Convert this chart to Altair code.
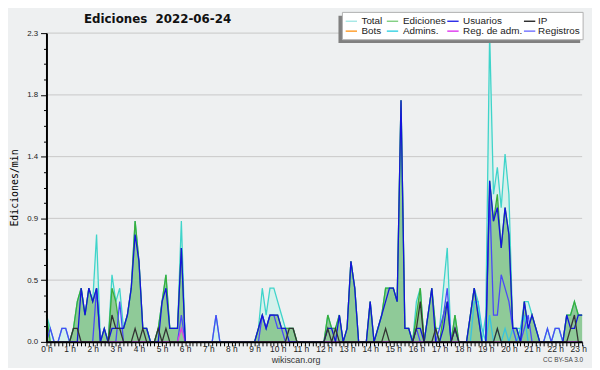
import altair as alt
import pandas as pd

# 10-minute slots, 00:00 .. 23:10
slots = list(range(140))

total = [
    0.2, 0.1, 0, 0, 0.1, 0.1,
    0, 0.1, 0.3, 0.4, 0.2, 0.4,
    0.3, 0.8, 0, 0.1, 0, 0.5,
    0.3, 0.4, 0.1, 0.2, 0.4, 0.9,
    0.6, 0.1, 0.1, 0, 0, 0.1,
    0.3, 0.5, 0.1, 0.1, 0.1, 0.9,
    0, 0, 0, 0, 0, 0,
    0, 0, 0.2, 0, 0, 0,
    0, 0, 0, 0, 0, 0,
    0, 0.1, 0.4, 0.2, 0.4, 0.4,
    0.3, 0.2, 0.1, 0.1, 0.1, 0,
    0, 0, 0, 0, 0, 0,
    0, 0.2, 0.1, 0.1, 0.2, 0,
    0.1, 0.6, 0.4, 0, 0, 0,
    0.3, 0, 0.1, 0.2, 0.4, 0.4,
    0.4, 0.3, 1.8, 0.1, 0.1, 0,
    0.3, 0.4, 0, 0.2, 0.4, 0.1,
    0.1, 0.4, 0.7, 0, 0.2, 0,
    0, 0, 0.2, 0.4, 0.3, 0,
    0.2, 2.3, 1.1, 1.3, 1.0, 1.4,
    1.1, 0.1, 0.1, 0.1, 0.3, 0.3,
    0.2, 0.1, 0, 0, 0.1, 0,
    0.1, 0.1, 0, 0.2, 0.2, 0.3,
    0.2, 0.2,
]

ediciones = [
    0.2, 0, 0, 0, 0, 0,
    0, 0.1, 0.3, 0.4, 0.2, 0.4,
    0.3, 0.4, 0, 0.1, 0, 0.4,
    0.3, 0.1, 0.1, 0.2, 0.4, 0.9,
    0.6, 0.1, 0.1, 0, 0, 0.1,
    0.3, 0.5, 0.1, 0.1, 0.1, 0.7,
    0, 0, 0, 0, 0, 0,
    0, 0, 0, 0, 0, 0,
    0, 0, 0, 0, 0, 0,
    0, 0.1, 0.2, 0.1, 0.2, 0.2,
    0.2, 0.1, 0.1, 0.1, 0.1, 0,
    0, 0, 0, 0, 0, 0,
    0, 0.2, 0.1, 0.1, 0.2, 0,
    0.1, 0.6, 0.4, 0, 0, 0,
    0.3, 0, 0.1, 0.2, 0.4, 0.4,
    0.4, 0.3, 1.8, 0.1, 0.1, 0,
    0.2, 0.4, 0, 0.2, 0.4, 0.1,
    0, 0.2, 0.3, 0, 0.2, 0,
    0, 0, 0.2, 0.4, 0.2, 0,
    0, 1.2, 0.9, 1.1, 0.7, 1.0,
    0.8, 0.1, 0.1, 0, 0.3, 0.1,
    0.2, 0.1, 0, 0, 0, 0,
    0, 0, 0, 0.2, 0.2, 0.3,
    0.2, 0.2,
]

usuarios = [
    0, 0, 0, 0, 0, 0,
    0, 0, 0, 0.4, 0.2, 0.4,
    0.3, 0.4, 0, 0.1, 0, 0.1,
    0.1, 0.1, 0.1, 0.2, 0.4, 0.8,
    0.6, 0.1, 0.1, 0, 0, 0,
    0.3, 0.4, 0.1, 0.1, 0.1, 0.7,
    0, 0, 0, 0, 0, 0,
    0, 0, 0, 0, 0, 0,
    0, 0, 0, 0, 0, 0,
    0, 0.1, 0.2, 0.1, 0.2, 0.2,
    0.2, 0.1, 0.1, 0, 0, 0,
    0, 0, 0, 0, 0, 0,
    0, 0.1, 0.1, 0, 0.2, 0,
    0.1, 0.6, 0.4, 0, 0, 0,
    0.3, 0, 0.1, 0.2, 0.3, 0.4,
    0.4, 0.3, 1.8, 0.1, 0.1, 0,
    0.1, 0.1, 0, 0.2, 0.4, 0,
    0, 0.1, 0.3, 0, 0.1, 0,
    0, 0, 0.2, 0.4, 0.2, 0,
    0, 1.2, 0.9, 1.0, 0.7, 1.0,
    0.8, 0.1, 0.1, 0, 0.3, 0.1,
    0.2, 0.1, 0, 0, 0, 0,
    0, 0, 0, 0.2, 0.1, 0.1,
    0.2, 0.2,
]

ip = [
    0, 0, 0, 0, 0, 0,
    0, 0.1, 0.1, 0, 0, 0,
    0, 0, 0, 0, 0, 0.2,
    0.1, 0.1, 0, 0, 0, 0.1,
    0, 0.1, 0, 0, 0, 0.1,
    0, 0.1, 0, 0, 0, 0,
    0, 0, 0, 0, 0, 0,
    0, 0, 0, 0, 0, 0,
    0, 0, 0, 0, 0, 0,
    0, 0, 0, 0, 0, 0,
    0, 0, 0, 0.1, 0.1, 0,
    0, 0, 0, 0, 0, 0,
    0, 0.1, 0, 0.1, 0, 0,
    0, 0, 0, 0, 0, 0,
    0, 0, 0, 0, 0.1, 0,
    0, 0, 0, 0, 0, 0,
    0.1, 0.3, 0, 0, 0, 0.1,
    0, 0, 0, 0, 0.1, 0,
    0, 0, 0, 0, 0, 0,
    0, 0, 0, 0.1, 0, 0,
    0, 0, 0, 0, 0, 0,
    0, 0, 0, 0, 0, 0,
    0, 0, 0, 0, 0.1, 0.2,
    0, 0,
]

admins = [
    0, 0, 0, 0, 0, 0,
    0, 0, 0, 0, 0, 0,
    0, 0, 0, 0, 0, 0,
    0, 0, 0, 0, 0, 0,
    0, 0, 0, 0, 0, 0,
    0, 0, 0, 0, 0, 0,
    0, 0, 0, 0, 0, 0,
    0, 0, 0, 0, 0, 0,
    0, 0, 0, 0, 0, 0,
    0, 0, 0, 0, 0, 0,
    0, 0, 0, 0, 0, 0,
    0, 0, 0, 0, 0, 0,
    0, 0, 0, 0, 0, 0,
    0, 0, 0, 0, 0, 0,
    0, 0, 0, 0, 0, 0,
    0, 0, 0, 0, 0, 0,
    0, 0, 0, 0, 0, 0,
    0, 0, 0, 0, 0, 0,
    0, 0, 0, 0.3, 0.3, 0.1,
    0, 0.2, 0, 0.1, 0, 0.1,
    0, 0.1, 0, 0.1, 0.2, 0,
    0, 0, 0, 0, 0, 0,
    0, 0, 0, 0, 0, 0,
    0, 0,
]

reg_adm = [
    0, 0, 0, 0, 0, 0,
    0, 0, 0, 0, 0, 0,
    0, 0, 0, 0, 0, 0,
    0, 0, 0, 0, 0, 0,
    0, 0, 0, 0, 0, 0,
    0, 0, 0, 0, 0, 0.1,
    0, 0, 0, 0, 0, 0,
    0, 0, 0, 0, 0, 0,
    0, 0, 0, 0, 0, 0,
    0, 0, 0, 0, 0, 0,
    0, 0, 0, 0, 0, 0,
    0, 0, 0, 0, 0, 0,
    0, 0, 0, 0, 0, 0,
    0, 0, 0, 0, 0, 0,
    0, 0, 0, 0, 0, 0,
    0, 0, 0, 0, 0, 0,
    0, 0, 0, 0, 0, 0,
    0, 0, 0, 0, 0, 0,
    0, 0, 0, 0, 0, 0,
    0, 0, 0, 0, 0, 0,
    0, 0, 0, 0, 0, 0,
    0, 0, 0, 0, 0, 0,
    0, 0, 0, 0, 0, 0,
    0, 0,
]

registros = [
    0, 0.1, 0, 0, 0.1, 0.1,
    0, 0, 0, 0, 0, 0,
    0, 0.4, 0, 0, 0, 0,
    0, 0.3, 0, 0, 0, 0,
    0, 0, 0, 0, 0, 0,
    0, 0, 0, 0, 0, 0.2,
    0, 0, 0, 0, 0, 0,
    0, 0, 0.2, 0, 0, 0,
    0, 0, 0, 0, 0, 0,
    0, 0, 0.2, 0.1, 0.2, 0.2,
    0.1, 0.1, 0, 0, 0, 0,
    0, 0, 0, 0, 0, 0,
    0, 0, 0, 0, 0, 0,
    0, 0, 0, 0, 0, 0,
    0, 0, 0, 0, 0, 0,
    0, 0, 0, 0, 0, 0,
    0.1, 0, 0, 0, 0, 0,
    0.1, 0.2, 0.4, 0, 0, 0,
    0, 0, 0, 0, 0, 0,
    0, 1.1, 0.2, 0.2, 0.5, 0.4,
    0.3, 0.1, 0, 0, 0.1, 0.2,
    0, 0, 0, 0, 0.1, 0,
    0.1, 0.1, 0, 0, 0, 0,
    0, 0,
]

legend_names = ["Total", "Ediciones", "Usuarios", "IP",
                "Bots", "Admins.", "Reg. de adm.", "Registros"]
legend_colors = ["#a8e8e6", "#84d084", "#3030e8", "#303030",
                 "#ffa030", "#40d4e4", "#e040f0", "#7878ff"]

y_major = [0, 0.46, 0.92, 1.38, 1.84, 2.3]
y_minor = [round(0.115 * k, 4) for k in range(21)]

series = {
    "Total": total,
    "Ediciones": ediciones,
    "Usuarios": usuarios,
    "IP": ip,
    "Admins.": admins,
    "Reg. de adm.": reg_adm,
    "Registros": registros,
}
rows = []
for name, vals in series.items():
    for s, v in zip(slots, vals):
        rows.append({"slot": s, "series": name, "value": v})
df = pd.DataFrame(rows)

W, H = 543, 313
BG = "#eef0f1"

xscale = alt.Scale(domain=[0, 139], nice=False, zero=False)
yscale = alt.Scale(domain=[0, 2.3], nice=False, zero=True)

major_test = "abs(datum.value / 0.46 - round(datum.value / 0.46)) < 0.01"

xaxis = alt.Axis(
    values=slots,
    labelExpr="datum.value % 6 == 0 ? (datum.value / 6) + ' h' : ''",
    labelOverlap=False, labelFlush=False, grid=False,
    tickSize=4, tickColor="#000", tickWidth=1,
    domainColor="#000", domainWidth=2,
    labelFont="Liberation Sans", labelFontSize=8.5, labelColor="#222",
    labelPadding=-1, title=None, zindex=1,
)
yaxis = alt.Axis(
    values=y_minor,
    labelExpr=major_test + " ? format(datum.value, '.1f') : ''",
    labelOverlap=False, labelFlush=False, grid=False,
    tickSize={"condition": {"test": major_test, "value": 6}, "value": 3},
    tickColor="#000", tickWidth=1, domainColor="#000", domainWidth=2,
    labelFont="Liberation Sans", labelFontSize=8, labelColor="#222",
    labelPadding=3,
    title="Ediciones/min", titleFont="DejaVu Sans Mono", titleFontSize=10,
    titleFontWeight="normal", titleColor="#000",
    titleX=-32, titleY=H / 2, titleAngle=270, titleAlign="center",
    titleBaseline="middle", zindex=1,
)

X = alt.X("slot:Q", scale=xscale, axis=xaxis)
Y = alt.Y("value:Q", scale=yscale, axis=yaxis)

base = alt.Chart(df)


def sel(name):
    return base.transform_filter(alt.datum.series == name)


grid = alt.Chart(pd.DataFrame({"v": y_major[1:]})).mark_rule(
    color="#c8c8c8", strokeWidth=1
).encode(y=alt.Y("v:Q", scale=yscale, axis=yaxis), x=alt.value(0), x2=alt.value(W))

area_t = sel("Total").mark_area(color="#d6f1ec", opacity=1).encode(x=X, y=Y)
area_e = sel("Ediciones").mark_area(color="#8fca98", opacity=1).encode(x=X, y=Y)


def line(name, color, width=1.3):
    return sel(name).mark_line(color=color, strokeWidth=width).encode(x=X, y=Y)


layers = [
    grid, area_t, area_e,
    line("Total", "#3fd4ca"),
    line("Ediciones", "#3aae3a"),
    line("Admins.", "#38c4e0"),
    line("Registros", "#4a4af8"),
    line("Reg. de adm.", "#e040e0"),
    line("Usuarios", "#1414dc"),
    line("IP", "#333333"),
]

one = pd.DataFrame({"k": [0]})


def text(t, x, y, size, font="Liberation Sans", weight="normal", align="left", color="#222"):
    return alt.Chart(one).mark_text(
        text=t, font=font, fontSize=size, fontWeight=weight, align=align,
        baseline="middle", color=color,
    ).encode(x=alt.value(x), y=alt.value(y))


def box(x1, x2, y1, y2, fill, stroke=None):
    kw = {"color": fill}
    if stroke:
        kw["stroke"] = stroke
        kw["strokeWidth"] = 1
    return alt.Chart(one).mark_rect(**kw).encode(
        x=alt.value(x1), x2=alt.value(x2), y=alt.value(y1), y2=alt.value(y2))


layers.append(text("Ediciones\u00a0 2022-06-24", 38, -14, 12, font="DejaVu Sans", weight="bold", color="#111"))
layers.append(text("wikiscan.org", 253, 331.5, 9, align="center", color="#333"))
layers.append(text("CC BY-SA 3.0", 544, 331, 6.5, align="right", color="#444"))

# legend box
layers.append(box(296, 541, -17.7, 10, "#808080"))
layers.append(box(300, 544, -21, 6.7, "#ffffff", stroke="#b0b0b0"))
sw_x = [303.3, 345, 406.3, 484]
tx_x = [319.3, 361.3, 422.3, 498.3]
row_y = [-12, -2]
for k, (nm, col) in enumerate(zip(legend_names, legend_colors)):
    c, r = k % 4, k // 4
    layers.append(alt.Chart(one).mark_rule(color=col, strokeWidth=1.5).encode(
        x=alt.value(sw_x[c]), x2=alt.value(sw_x[c] + 11.5), y=alt.value(row_y[r])))
    layers.append(text(nm, tx_x[c], row_y[r], 10))

chart = alt.layer(*layers).properties(
    width=W, height=H,
    autosize=alt.AutoSizeParams(type="none"),
    padding={"left": 39, "top": 23, "right": 10, "bottom": 24},
    background=BG,
).configure_view(strokeOpacity=0)

chart.save("out.html", embed_options={"renderer": "svg", "actions": False})
